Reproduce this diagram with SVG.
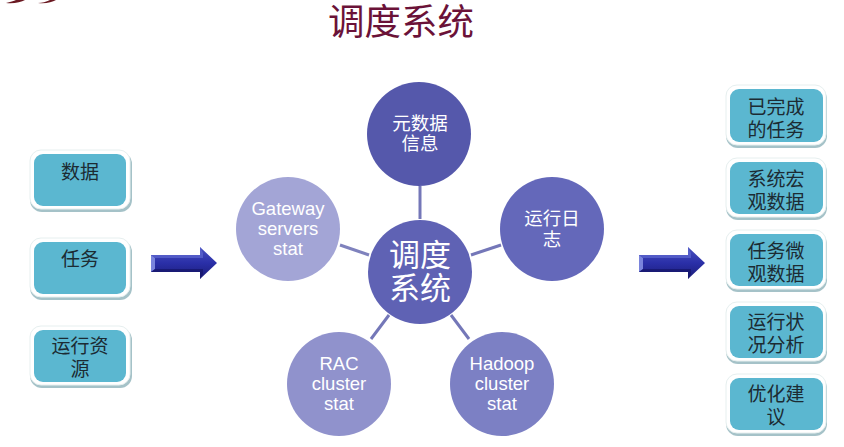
<svg xmlns="http://www.w3.org/2000/svg" width="844" height="447" viewBox="0 0 844 447">
<style>
text{font-family:"Noto Sans CJK SC","Liberation Sans",sans-serif;text-anchor:middle}
.b{fill:#5bb7d0}
.w{fill:#fff;stroke:#e6efef;stroke-width:1}
.s{fill:#a5c2c8}
.t{font-size:19px;fill:#1c2b33}
.c{font-size:18.5px;fill:#fff}
.e{font-family:"Liberation Sans",sans-serif}
.big{font-size:31px;fill:#fff}
.l{stroke-width:3;fill:none}
.ti{font-size:36.5px;fill:#6b1238}
</style>
<defs>
<linearGradient id="ar" x1="0" y1="0" x2="0" y2="1"><stop offset="0" stop-color="#4a52c0"/><stop offset=".5" stop-color="#2a2fa8"/><stop offset="1" stop-color="#1b1c78"/></linearGradient>
<g id="arrow"><path d="M0 8H49V0L66 16 49 32V25H0Z" fill="url(#ar)"/><path d="M0 8L4 11V22L0 25Z" fill="#7a84dc"/><path d="M0 8H49V0L52 6V11H4Z" fill="#5e68d0" opacity=".7"/><path d="M0 25L4 22H52V27L49 32V25Z" fill="#15166a" opacity=".7"/></g>
</defs>
<path d="M6 3C10 2 14 1 16 0H25C21 2 14 4 6 3ZM38 3C42 3 46 2 50 0H56C52 2 46 4 38 3Z" fill="#6b1a22"/>
<text class="ti" x="401" y="35">调度系统</text>
<g id="connectors" class="l">
<path d="M420 186V219" stroke="#7477b8"/>
<path d="M471 255L501 245" stroke="#7477b8"/>
<path d="M451 315L469 339" stroke="#7477b8"/>
<path d="M389 315L371 339" stroke="#7477b8"/>
<path d="M369 255L340 245" stroke="#7f82bd"/>
</g>
<g id="n-meta"><circle cx="419" cy="134" r="52" fill="#5558ab"/><text class="c" x="420" y="130">元数据</text><text class="c" x="420" y="150">信息</text></g>
<g id="n-log"><circle cx="552" cy="229" r="52" fill="#6468ba"/><text class="c" x="552" y="225">运行日</text><text class="c" x="552" y="246">志</text></g>
<g id="n-hadoop"><circle cx="502" cy="384" r="52" fill="#7c80c4"/><text class="c e" x="502" y="370">Hadoop</text><text class="c e" x="502" y="390">cluster</text><text class="c e" x="502" y="410">stat</text></g>
<g id="n-rac"><circle cx="339" cy="384" r="52" fill="#9092cc"/><text class="c e" x="339" y="370">RAC</text><text class="c e" x="339" y="390">cluster</text><text class="c e" x="339" y="410">stat</text></g>
<g id="n-gw"><circle cx="288" cy="229" r="52" fill="#a3a5d6"/><text class="c e" x="288" y="215">Gateway</text><text class="c e" x="288" y="235">servers</text><text class="c e" x="288" y="255">stat</text></g>
<g id="n-center"><circle cx="420" cy="272" r="52" fill="#5f62b4"/><text class="big" x="420" y="266">调度</text><text class="big" x="420" y="299">系统</text></g>
<g id="in-1"><rect class="s" x="30" y="152" width="102" height="60" rx="12"/><rect class="w" x="30" y="150" width="100" height="59" rx="11"/><rect class="b" x="34" y="154" width="92" height="52" rx="9"/><text class="t" x="80" y="179">数据</text></g>
<g id="in-2"><rect class="s" x="30" y="240" width="102" height="60" rx="12"/><rect class="w" x="30" y="238" width="100" height="59" rx="11"/><rect class="b" x="34" y="242" width="92" height="52" rx="9"/><text class="t" x="80" y="266">任务</text></g>
<g id="in-3"><rect class="s" x="30" y="328" width="102" height="60" rx="12"/><rect class="w" x="30" y="326" width="100" height="59" rx="11"/><rect class="b" x="34" y="330" width="92" height="52" rx="9"/><text class="t" x="80" y="353">运行资</text><text class="t" x="80" y="376">源</text></g>
<use id="arrow-in" href="#arrow" x="151" y="247"/>
<use id="arrow-out" href="#arrow" x="639" y="247"/>
<g id="out-1"><rect class="s" x="726" y="87" width="101" height="61" rx="12"/><rect class="w" x="726" y="85" width="100" height="60" rx="11"/><rect class="b" x="730" y="89" width="93" height="53" rx="9"/><text class="t" x="776" y="114">已完成</text><text class="t" x="776" y="137">的任务</text></g>
<g id="out-2"><rect class="s" x="726" y="160" width="101" height="60" rx="12"/><rect class="w" x="726" y="158" width="100" height="59" rx="11"/><rect class="b" x="730" y="162" width="93" height="52" rx="9"/><text class="t" x="776" y="186">系统宏</text><text class="t" x="776" y="209">观数据</text></g>
<g id="out-3"><rect class="s" x="726" y="232" width="101" height="60" rx="12"/><rect class="w" x="726" y="230" width="100" height="59" rx="11"/><rect class="b" x="730" y="234" width="93" height="52" rx="9"/><text class="t" x="776" y="258">任务微</text><text class="t" x="776" y="281">观数据</text></g>
<g id="out-4"><rect class="s" x="726" y="304" width="101" height="60" rx="12"/><rect class="w" x="726" y="302" width="100" height="59" rx="11"/><rect class="b" x="730" y="306" width="93" height="52" rx="9"/><text class="t" x="776" y="329">运行状</text><text class="t" x="776" y="352">况分析</text></g>
<g id="out-5"><rect class="s" x="726" y="376" width="101" height="60" rx="12"/><rect class="w" x="726" y="374" width="100" height="59" rx="11"/><rect class="b" x="730" y="378" width="93" height="52" rx="9"/><text class="t" x="776" y="401">优化建</text><text class="t" x="776" y="424">议</text></g>
</svg>
